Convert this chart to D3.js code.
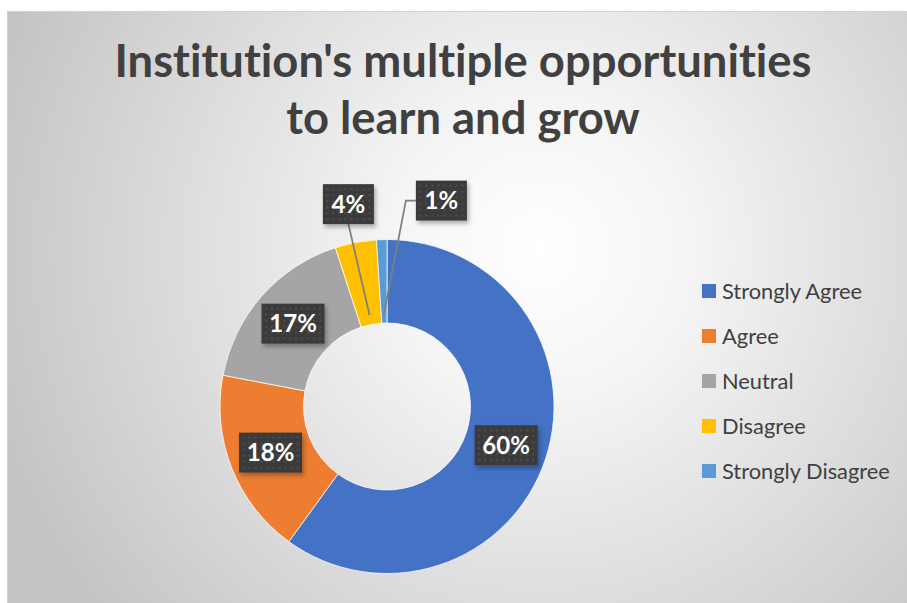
<!DOCTYPE html>
<html>
<head>
<meta charset="utf-8">
<script src="https://cdn.jsdelivr.net/npm/d3@7"></script>
<style>
  html, body { margin: 0; padding: 0; background: #fff; }
  svg { display: block; }
  text { font-variant-ligatures: none; font-feature-settings: "liga" 0; }
</style>
</head>
<body>
<div id="chart"></div>
<script>
const titleLines = ["Institution's multiple opportunities", "to learn and grow"];
const categories = ["Strongly Agree", "Agree", "Neutral", "Disagree", "Strongly Disagree"];
const values = [60, 18, 17, 4, 1];
const colors = ["#4472C4", "#ED7D31", "#A5A5A5", "#FFC000", "#5B9BD5"];

const width = 907;
const height = 603;
const center = {x: 387, y: 406.5};
const outer = 167;
const inner = 83.5;
const textColor = "#404040";

const svg = d3.select("#chart").append("svg")
    .attr("width", width)
    .attr("height", height);

const defs = svg.append("defs");

// chart area background
const grad = defs.append("radialGradient")
    .attr("id", "bg")
    .attr("gradientUnits", "userSpaceOnUse")
    .attr("cx", 540).attr("cy", 250).attr("r", 580);
grad.append("stop").attr("offset", 0).attr("stop-color", "#ffffff");
grad.append("stop").attr("offset", 0.25).attr("stop-color", "#f5f5f5");
grad.append("stop").attr("offset", 1).attr("stop-color", "#c3c3c3");

// dotted fill for the data labels
const pat = defs.append("pattern")
    .attr("id", "dots")
    .attr("patternUnits", "userSpaceOnUse")
    .attr("width", 6).attr("height", 6);
pat.append("rect").attr("width", 6).attr("height", 6).attr("fill", "#3b3b3b");
pat.append("rect").attr("x", 2).attr("y", 2).attr("width", 2).attr("height", 2).attr("fill", "#4e4e4e");

const shadow = defs.append("filter").attr("id", "shadow")
    .attr("x", "-20%").attr("y", "-20%").attr("width", "150%").attr("height", "150%");
shadow.append("feDropShadow")
    .attr("dx", 2).attr("dy", 3).attr("stdDeviation", 2)
    .attr("flood-color", "#000").attr("flood-opacity", 0.3);

svg.append("rect")
    .attr("x", 7.5).attr("y", 11.5)
    .attr("width", 905).attr("height", 600)
    .attr("fill", "url(#bg)")
    .attr("stroke", "#d0d0d0");

// shrink or grow a text node so it spans the given width
function fitText(sel, target) {
    const node = sel.node();
    const size = parseFloat(sel.attr("font-size"));
    const w = node.getComputedTextLength();
    sel.attr("font-size", (size * target / w).toFixed(2));
}

// title
const title = svg.append("g")
    .attr("font-family", "Lato, 'Open Sans', sans-serif")
    .attr("font-weight", "bold")
    .attr("fill", textColor)
    .attr("text-anchor", "middle");
const t1 = title.append("text").attr("x", 463).attr("y", 77).attr("font-size", 40).text(titleLines[0]);
fitText(t1, 697);
title.append("text").attr("x", 463).attr("y", 134).attr("font-size", t1.attr("font-size")).text(titleLines[1]);

// donut
const pie = d3.pie().sort(null).value(d => d);
const arcs = pie(values);
const arc = d3.arc().innerRadius(inner).outerRadius(outer);

const g = svg.append("g").attr("transform", `translate(${center.x},${center.y})`);

g.selectAll("path")
    .data(arcs)
    .join("path")
    .attr("d", arc)
    .attr("fill", (d, i) => colors[i])
    .attr("stroke", "#ffffff")
    .attr("stroke-width", 0.75);

// data labels: inside the ring when the slice is wide enough, otherwise outside with a leader
const labelW = 63, labelH = 40, smallW = 51;
const placed = [];
arcs.forEach(function(d, i) {
    const mid = (d.startAngle + d.endAngle) / 2;
    const out = d.value < 8;
    let p;
    if (out) {
        p = [Math.sin(mid) * 206, -Math.cos(mid) * 206];
        const prev = placed[placed.length - 1];
        if (prev && prev.out && p[0] - prev.p[0] < 93) p[0] = prev.p[0] + 93;
    } else {
        p = arc.centroid(d);
    }
    placed.push({d: d, i: i, p: p, out: out, mid: mid});
});

const leaders = g.append("g")
    .attr("fill", "none")
    .attr("stroke", "#7f7f7f")
    .attr("stroke-width", 1.75);

placed.filter(l => l.out).forEach(function(l, k) {
    const end = [Math.sin(l.mid) * 93, -Math.cos(l.mid) * 93];
    let pts;
    if (k === 0) {
        pts = [[l.p[0], l.p[1] + labelH / 2], end];
    } else {
        const lx = l.p[0] - smallW / 2;
        pts = [[lx, l.p[1]], [lx - 10, l.p[1]], end];
    }
    leaders.append("path").attr("d", d3.line()(pts));
});

const labels = g.selectAll("g.label")
    .data(placed)
    .join("g")
    .attr("class", "label")
    .attr("transform", l => `translate(${l.p[0]},${l.p[1]})`);

labels.append("rect")
    .attr("x", l => -(l.out ? smallW : labelW) / 2)
    .attr("y", -labelH / 2)
    .attr("width", l => l.out ? smallW : labelW)
    .attr("height", labelH)
    .attr("fill", "url(#dots)")
    .attr("filter", "url(#shadow)");

labels.append("text")
    .attr("text-anchor", "middle")
    .attr("dy", "0.36em")
    .attr("font-family", "Lato, 'Open Sans', sans-serif")
    .attr("font-weight", "bold")
    .attr("font-size", 24)
    .attr("fill", "#ffffff")
    .text(l => l.d.value + "%");

// legend
const legend = svg.append("g")
    .attr("font-family", "Lato, 'Open Sans', sans-serif")
    .attr("fill", textColor);

const rows = legend.selectAll("g")
    .data(categories)
    .join("g")
    .attr("transform", (d, i) => `translate(702, ${291 + i * 45})`);

rows.append("rect")
    .attr("x", 0).attr("y", -7)
    .attr("width", 14).attr("height", 14)
    .attr("fill", (d, i) => colors[i]);

const legendText = rows.append("text")
    .attr("x", 20)
    .attr("dy", "0.35em")
    .attr("font-size", 20)
    .text(d => d);

// size the legend font from the longest entry
const longest = legendText.filter((d, i) => i === categories.length - 1);
fitText(longest, 168);
legendText.attr("font-size", longest.attr("font-size"));
</script>
</body>
</html>
